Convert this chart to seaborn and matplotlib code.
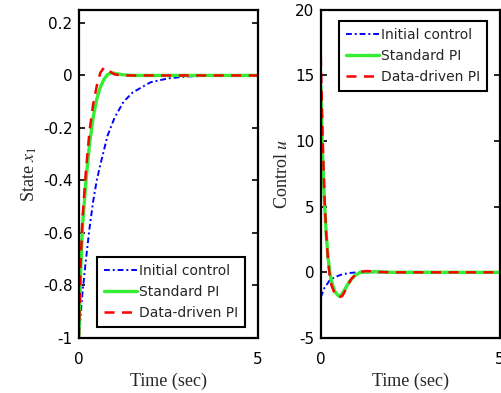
import matplotlib
matplotlib.use("Agg")
import matplotlib.pyplot as plt
import seaborn as sns

# time grids and values
t_init = [0, 0.1, 0.2, 0.3, 0.4, 0.5, 0.6, 0.8, 1.0, 1.25, 1.5, 2.0, 2.5, 3.0, 3.5, 4.0, 5.0]
x1_init = [-1, -0.83, -0.70, -0.58, -0.48, -0.40, -0.34, -0.23, -0.16, -0.10, -0.065,
           -0.026, -0.011, -0.004, -0.002, -0.001, 0]

t_pi = [0, 0.05, 0.1, 0.2, 0.3, 0.4, 0.5, 0.6, 0.7, 0.8, 0.9, 1.0, 1.2, 1.5, 2.0, 5.0]
x1_std = [-1, -0.75, -0.58, -0.40, -0.26, -0.16, -0.09, -0.045, -0.015, 0.003, 0.01,
          0.008, 0.003, 0, 0, 0]
x1_dd = [-1, -0.72, -0.55, -0.36, -0.21, -0.11, -0.04, 0.01, 0.03, 0.025, 0.012,
         0.004, 0, 0, 0, 0]

tu_init = [0, 0.1, 0.25, 0.4, 0.6, 0.8, 1.0, 1.5, 5.0]
u_init = [-1.9, -1.2, -0.6, -0.35, -0.15, -0.05, 0, 0, 0]

tu_std = [0, 0.05, 0.1, 0.15, 0.2, 0.25, 0.3, 0.4, 0.5, 0.55, 0.65, 0.8, 0.95, 1.1, 1.5, 2.0, 5.0]
u_std = [14.2, 9, 5.5, 3, 1.2, 0, -0.7, -1.5, -1.8, -1.8, -1.4, -0.7, -0.25, 0, 0.05, 0, 0]

tu_dd = [0, 0.05, 0.1, 0.15, 0.2, 0.25, 0.3, 0.4, 0.5, 0.6, 0.7, 0.85, 1.0, 1.1, 1.3, 1.6, 2.0, 5.0]
u_dd = [16.5, 10.5, 6, 3, 1, -0.3, -1, -1.7, -1.9, -1.8, -1.3, -0.5, -0.1, 0.05, 0.1, 0.03, 0, 0]

labels = ["Initial control", "Standard PI", "Data-driven PI"]

sns.set_style("white")
plt.rcParams["font.family"] = ["DejaVu Sans"]
plt.rcParams["mathtext.fontset"] = "stix"

fig = plt.figure(figsize=(5.02, 3.93), dpi=100)
ax1 = fig.add_axes([0.157, 0.140, 0.357, 0.835])
ax2 = fig.add_axes([0.639, 0.140, 0.357, 0.835])

def draw(ax, ti, yi, tp1, ys, tp2, yd):
    sns.lineplot(x=ti, y=yi, ax=ax, color="blue", linestyle=(0, (3, 1.5, 1, 1.5)), linewidth=1.4, label=labels[0])
    sns.lineplot(x=tp1, y=ys, ax=ax, color="#33ee33", linestyle="-", linewidth=2.4, label=labels[1])
    sns.lineplot(x=tp2, y=yd, ax=ax, color="red", linestyle=(0, (4, 3)), linewidth=1.8, label=labels[2])

draw(ax1, t_init, x1_init, t_pi, x1_std, t_pi, x1_dd)
draw(ax2, tu_init, u_init, tu_std, u_std, tu_dd, u_dd)

ax1.set_xlim(0, 5)
ax1.set_ylim(-1, 0.25)
ax1.set_yticks([-1, -0.8, -0.6, -0.4, -0.2, 0, 0.2])
ax1.set_yticklabels(["-1", "-0.8", "-0.6", "-0.4", "-0.2", "0", "0.2"])
ax2.set_xlim(0, 5)
ax2.set_ylim(-5, 20)
ax2.set_yticks([-5, 0, 5, 10, 15, 20])
ax2.set_yticklabels(["-5", "0", "5", "10", "15", "20"])

serif = {"family": ["Liberation Serif", "DejaVu Serif"], "size": 13}
ax1.set_ylabel("State $x_1$", fontdict=serif, labelpad=3)
ax2.set_ylabel("Control $u$", fontdict=serif, labelpad=3)

for ax in (ax1, ax2):
    ax.set_xticks([0, 5])
    ax.set_xticklabels(["0", "5"])
    ax.set_xlabel("Time (sec)", fontdict=serif, labelpad=4)
    ax.tick_params(axis="y", direction="in", length=4, width=1.2, labelsize=11,
                   right=True, left=True, colors="black", pad=4.5)
    ax.tick_params(axis="x", bottom=False, labelsize=11, colors="black", pad=6.5)
    for s in ax.spines.values():
        s.set_color("black")
        s.set_linewidth(1.6)

leg_kw = dict(frameon=True, fancybox=False, edgecolor="black", framealpha=1,
              fontsize=10, handlelength=2.4, handletextpad=0.15, borderpad=0.5,
              labelspacing=0.5, borderaxespad=0)
l1 = ax1.legend(loc="lower right", bbox_to_anchor=(0.93, 0.034), **leg_kw)
l2 = ax2.legend(loc="upper right", bbox_to_anchor=(0.93, 0.966), **leg_kw)
for lg in (l1, l2):
    lg.get_frame().set_linewidth(1.5)

fig.savefig("out.png", dpi=100)
